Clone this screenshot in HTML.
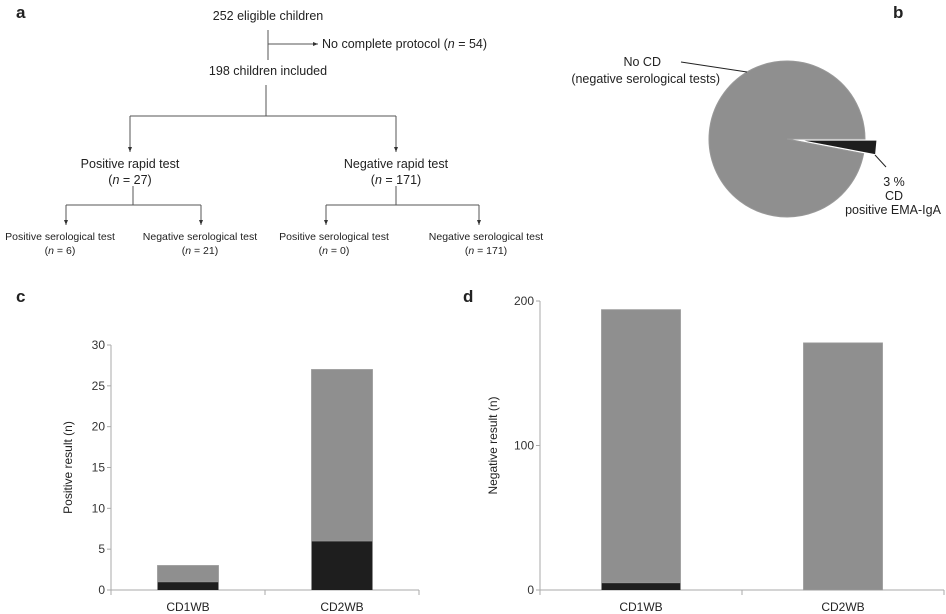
<!DOCTYPE html>
<html><head><meta charset="utf-8"><style>
body{margin:0;background:#fff;}
svg{display:block;font-family:"Liberation Sans",sans-serif;}
</style></head><body>
<svg width="946" height="614" viewBox="0 0 946 614">
<defs><marker id="ar" markerWidth="6" markerHeight="6" refX="5" refY="3" orient="auto"><path d="M0,1 L5,3 L0,5 Z" fill="#333"/></marker></defs>
<g font-weight="bold" font-size="17" fill="#222">
<text x="16" y="18">a</text>
<text x="893" y="18">b</text>
<text x="16" y="302">c</text>
<text x="463" y="302">d</text>
</g>
<g font-size="12.5" fill="#222" stroke-width="1">
<g stroke="#555" fill="none">
<line x1="268" y1="30" x2="268" y2="60"/>
<line x1="268" y1="44" x2="318" y2="44" marker-end="url(#ar)"/>
<line x1="266" y1="85" x2="266" y2="116"/>
<line x1="130" y1="116" x2="396" y2="116"/>
<line x1="130" y1="116" x2="130" y2="152" marker-end="url(#ar)"/>
<line x1="396" y1="116" x2="396" y2="152" marker-end="url(#ar)"/>
<line x1="133" y1="186" x2="133" y2="205"/>
<line x1="66" y1="205" x2="201" y2="205"/>
<line x1="66" y1="205" x2="66" y2="225" marker-end="url(#ar)"/>
<line x1="201" y1="205" x2="201" y2="225" marker-end="url(#ar)"/>
<line x1="396" y1="186" x2="396" y2="205"/>
<line x1="326" y1="205" x2="479" y2="205"/>
<line x1="326" y1="205" x2="326" y2="225" marker-end="url(#ar)"/>
<line x1="479" y1="205" x2="479" y2="225" marker-end="url(#ar)"/>
</g>
<text x="268" y="20" text-anchor="middle">252 eligible children</text>
<text x="322" y="48">No complete protocol (<tspan font-style="italic">n</tspan> = 54)</text>
<text x="268" y="75" text-anchor="middle">198 children included</text>
<text x="130" y="168" text-anchor="middle">Positive rapid test</text>
<text x="130" y="184" text-anchor="middle">(<tspan font-style="italic">n</tspan> = 27)</text>
<text x="396" y="168" text-anchor="middle">Negative rapid test</text>
<text x="396" y="184" text-anchor="middle">(<tspan font-style="italic">n</tspan> = 171)</text>
<g font-size="10.5">
<text x="60" y="240" text-anchor="middle">Positive serological test</text>
<text x="60" y="254" text-anchor="middle">(<tspan font-style="italic">n</tspan> = 6)</text>
<text x="200" y="240" text-anchor="middle">Negative serological test</text>
<text x="200" y="254" text-anchor="middle">(<tspan font-style="italic">n</tspan> = 21)</text>
<text x="334" y="240" text-anchor="middle">Positive serological test</text>
<text x="334" y="254" text-anchor="middle">(<tspan font-style="italic">n</tspan> = 0)</text>
<text x="486" y="240" text-anchor="middle">Negative serological test</text>
<text x="486" y="254" text-anchor="middle">(<tspan font-style="italic">n</tspan> = 171)</text>
</g>
</g>
<g id="pie"></g>
<g id="chartc"></g>
<g id="chartd"></g>
</svg>
<script>
const pieLabels=["No CD","CD"];
const pieValues=[97,3];
const cCategories=["CD1WB","CD2WB"];
const cBlack=[1,6];
const cGray=[2,21];
const cTicks=[0,5,10,15,20,25,30];
const dCategories=["CD1WB","CD2WB"];
const dBlack=[5,0];
const dGray=[189,171];
const dTicks=[0,100,200];
const NS="http://www.w3.org/2000/svg";
function mk(p,t,a){const e=document.createElementNS(NS,t);for(const k in a)e.setAttribute(k,a[k]);p.appendChild(e);return e;}
(function(){
const g=document.getElementById('pie');const cx=787,cy=139,r=78;
const tot=pieValues.reduce((a,b)=>a+b,0);
const a3=pieValues[1]/tot*2*Math.PI;
let s=a3,e=2*Math.PI;
let p=mk(g,'path',{d:`M${cx},${cy} L${cx+r*Math.cos(s)},${cy+r*Math.sin(s)} A${r},${r} 0 1 1 ${cx+r*Math.cos(e)},${cy+r*Math.sin(e)} Z`,fill:'#8f8f8f',stroke:'#999'});


const off=12,mid=a3/2,ox=cx+off*Math.cos(mid),oy=cy+off*Math.sin(mid);
p=mk(g,'path',{d:`M${ox},${oy} L${ox+r*Math.cos(0)},${oy} L${ox+r*Math.cos(a3)},${oy+r*Math.sin(a3)} Z`,fill:'#1e1e1e',stroke:'#fff','stroke-width':1});


mk(g,'line',{x1:681,y1:62,x2:747,y2:72,stroke:'#222'});
mk(g,'line',{x1:875,y1:155,x2:886,y2:167,stroke:'#222'});
const lab=[[pieLabels[0],661,66,"end"],["(negative serological tests)",720,83,"end"],[pieValues[1]+" %",894,186,"middle"],[pieLabels[1],894,200,"middle"],["positive EMA-IgA",893,214,"middle"]];
lab.forEach(l=>{const t=mk(g,'text',{x:l[1],y:l[2],'text-anchor':l[3],'font-size':'12.5',fill:'#222'});t.textContent=l[0];

});
})();
function bars(id,cats,blk,gry,ticks,ymax,x0,x1,ytop,bw,title,titleX){
const g=document.getElementById(id);const y0=590;
const Y=v=>y0-(v/ymax)*(y0-ytop);
const band=(x1-x0)/cats.length;
mk(g,'line',{x1:x0,y1:Y(ymax),x2:x0,y2:y0,stroke:'#aaa'});
mk(g,'line',{x1:x0,y1:y0,x2:x1,y2:y0,stroke:'#aaa'});
for(let i=0;i<=cats.length;i++)mk(g,'line',{x1:x0+band*i,y1:y0,x2:x0+band*i,y2:y0+5,stroke:'#aaa'});
ticks.forEach(t=>{mk(g,'line',{x1:x0-4,y1:Y(t),x2:x0,y2:Y(t),stroke:'#aaa'});
const tx=mk(g,'text',{x:x0-6,y:Y(t)+4,'text-anchor':'end','font-size':'12',fill:'#333'});tx.textContent=t;

});
cats.forEach((c,i)=>{const cx=x0+band*(i+0.5);
if(blk[i]>0){const r=mk(g,'rect',{x:cx-bw/2,y:Y(blk[i]),width:bw,height:y0-Y(blk[i]),fill:'#1e1e1e'});

}
const r2=mk(g,'rect',{x:cx-bw/2,y:Y(blk[i]+gry[i]),width:bw,height:Y(blk[i])-Y(blk[i]+gry[i]),fill:'#8f8f8f',stroke:'#999','stroke-width':0.8});


const t=mk(g,'text',{x:cx,y:611,'text-anchor':'middle','font-size':'12',fill:'#222'});t.textContent=c;

});
const ty=(ytop+y0)/2;
const tt=mk(g,'text',{x:titleX,y:ty,'text-anchor':'middle','font-size':'12',fill:'#222',transform:`rotate(-90 ${titleX} ${ty})`});tt.textContent=title;


}
bars('chartc',cCategories,cBlack,cGray,cTicks,30,111,419,345,61,'Positive result (n)',72);
bars('chartd',dCategories,dBlack,dGray,dTicks,200,540,944,301,79,'Negative result (n)',497);
</script>
</body></html>
